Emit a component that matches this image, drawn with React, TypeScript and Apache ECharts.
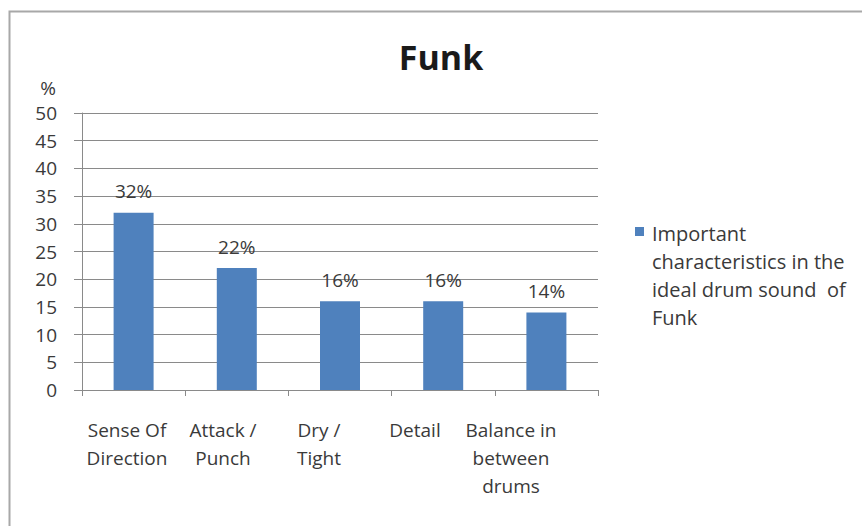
import React, { useEffect, useRef } from "react";
import * as echarts from "echarts";

// Chart content
const titleText = "Funk";
const categories = [
  "Sense Of\nDirection",
  "Attack /\nPunch",
  "Dry /\nTight",
  "Detail",
  "Balance in\nbetween\ndrums",
];
const values = [32, 22, 16, 16, 14];
const seriesName = "Important\ncharacteristics in the\nideal drum sound  of\nFunk";
const yMin = 0;
const yMax = 50;
const yStep = 5;
const yUnit = "%";

const FONT = "'Open Sans', Lato, sans-serif";
const TEXT = "#3a3a3a";
const GRID = "#8a8a8a";
const BAR = "#4f81bd";

export default function App() {
  const ref = useRef<HTMLDivElement>(null);

  useEffect(() => {
    if (!ref.current) return;
    const chart = echarts.init(ref.current, null, { renderer: "svg" });
    chart.setOption({
      animation: false,
      backgroundColor: "#ffffff",
      textStyle: { fontFamily: FONT },
      grid: [
        { left: 82, right: 264, top: 113, bottom: 136, containLabel: false },
        // grid carrying only the category labels
        { left: 79, right: 303, top: 113, bottom: 136, containLabel: false },
      ],
      xAxis: [
        {
          type: "category",
          gridIndex: 0,
          data: categories,
          axisLine: { show: true, lineStyle: { color: GRID, width: 1 } },
          axisTick: { show: true, length: 6, lineStyle: { color: GRID } },
          axisLabel: { show: false },
        },
        {
          type: "category",
          gridIndex: 1,
          data: categories,
          axisLine: { show: false },
          axisTick: { show: false },
          axisLabel: {
            show: true,
            interval: 0,
            margin: 26,
            fontFamily: FONT,
            fontSize: 19,
            lineHeight: 28,
            color: TEXT,
          },
        },
      ],
      yAxis: [
        {
          type: "value",
          gridIndex: 0,
          min: yMin,
          max: yMax,
          interval: yStep,
          axisLine: { show: true, lineStyle: { color: GRID, width: 1 } },
          axisTick: { show: true, length: 8, lineStyle: { color: GRID } },
          splitLine: { show: true, lineStyle: { color: GRID, width: 1 } },
          axisLabel: { margin: 25, fontFamily: FONT, fontSize: 19, color: TEXT },
        },
        {
          type: "value",
          gridIndex: 1,
          min: yMin,
          max: yMax,
          show: false,
        },
      ],
      series: [
        {
          name: seriesName,
          type: "bar",
          xAxisIndex: 0,
          yAxisIndex: 0,
          data: values,
          barWidth: 40,
          itemStyle: { color: BAR },
          label: {
            show: true,
            position: "top",
            distance: 12,
            formatter: (p: any) => `${p.value}%`,
            fontFamily: FONT,
            fontSize: 19,
            color: TEXT,
          },
        },
      ],
      graphic: [
        {
          type: "rect",
          shape: { x: 9.5, y: 11.5, width: 900, height: 600 },
          style: { fill: "none", stroke: "#a8a8a8", lineWidth: 2 },
          silent: true,
        },
        {
          type: "text",
          x: 441,
          y: 57,
          style: {
            text: titleText,
            fontFamily: FONT,
            fontSize: 34,
            fontWeight: "bold",
            fill: "#1a1a1a",
            textAlign: "center",
            textVerticalAlign: "middle",
          },
        },
        {
          type: "text",
          x: 48,
          y: 88,
          style: {
            text: yUnit,
            fontFamily: FONT,
            fontSize: 19,
            fill: TEXT,
            textAlign: "center",
            textVerticalAlign: "middle",
          },
        },
        {
          type: "rect",
          shape: { x: 635, y: 227, width: 9, height: 9 },
          style: { fill: BAR },
        },
        {
          type: "text",
          x: 652,
          y: 219,
          style: {
            text: seriesName,
            fontFamily: FONT,
            fontSize: 20,
            lineHeight: 28,
            fill: TEXT,
            textAlign: "left",
            textVerticalAlign: "top",
          },
        },
      ],
    });
    return () => chart.dispose();
  }, []);

  return (
    <div
      ref={ref}
      style={{ position: "fixed", left: 0, top: 0, width: 862, height: 526 }}
    />
  );
}
